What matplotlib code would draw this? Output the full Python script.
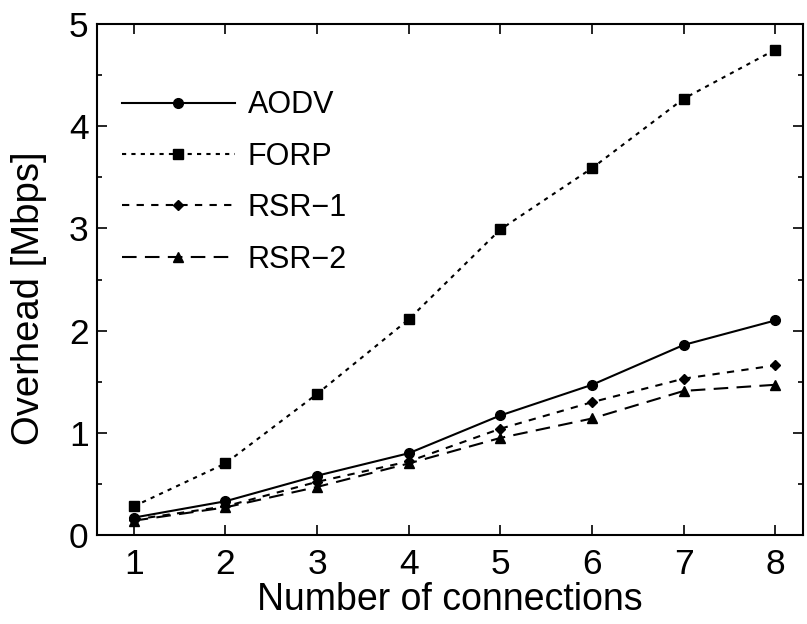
import matplotlib.pyplot as plt
from matplotlib.ticker import MultipleLocator

plt.rcParams['font.family'] = ['Liberation Sans', 'DejaVu Sans']

connections = [1, 2, 3, 4, 5, 6, 7, 8]
aodv = [0.17, 0.33, 0.58, 0.80, 1.17, 1.47, 1.86, 2.10]
forp = [0.28, 0.70, 1.38, 2.11, 2.99, 3.59, 4.27, 4.75]
rsr1 = [0.15, 0.28, 0.52, 0.72, 1.04, 1.30, 1.53, 1.66]
rsr2 = [0.14, 0.27, 0.47, 0.70, 0.95, 1.14, 1.41, 1.47]

fig = plt.figure(figsize=(8.07, 6.24), dpi=100)
ax = fig.add_axes([97 / 807, 1 - 535 / 624, 706 / 807, 511 / 624])

ax.plot(connections, aodv, color='black', lw=1.5, ls='-', marker='o', ms=7, label='AODV')
ax.plot(connections, forp, color='black', lw=1.5, ls=(0, (2, 2.5)), marker='s', ms=7.5, label='FORP')
ax.plot(connections, rsr1, color='black', lw=1.5, ls=(0, (3.5, 3.5)), marker='D', ms=5, label='RSR\u22121')
ax.plot(connections, rsr2, color='black', lw=1.5, ls=(0, (7, 4)), marker='^', ms=6.5, label='RSR\u22122')

ax.set_xlim(0.6, 8.3)
ax.set_ylim(0, 5)
ax.set_xticks(connections)
ax.set_yticks([0, 1, 2, 3, 4, 5])
ax.yaxis.set_minor_locator(MultipleLocator(0.5))
ax.tick_params(which='major', direction='in', top=True, right=True, length=7.5, width=1.2,
               labelsize=25.5, pad=6)
ax.tick_params(axis='x', which='major', pad=9)
ax.tick_params(which='minor', direction='in', right=True, length=3.8, width=1.2)
for s in ax.spines.values():
    s.set_linewidth(1.5)

ax.set_xlabel('Number of connections', fontsize=27, labelpad=1)
ax.set_ylabel('Overhead [Mbps]', fontsize=27.5)
ax.yaxis.set_label_coords(-0.071, 0.464)

ax.legend(loc='upper left', bbox_to_anchor=(0.018, 0.894), frameon=False, fontsize=22,
          handlelength=3.7, handletextpad=0.42, labelspacing=0.7, borderaxespad=0)

fig.savefig('out.png', dpi=100)
